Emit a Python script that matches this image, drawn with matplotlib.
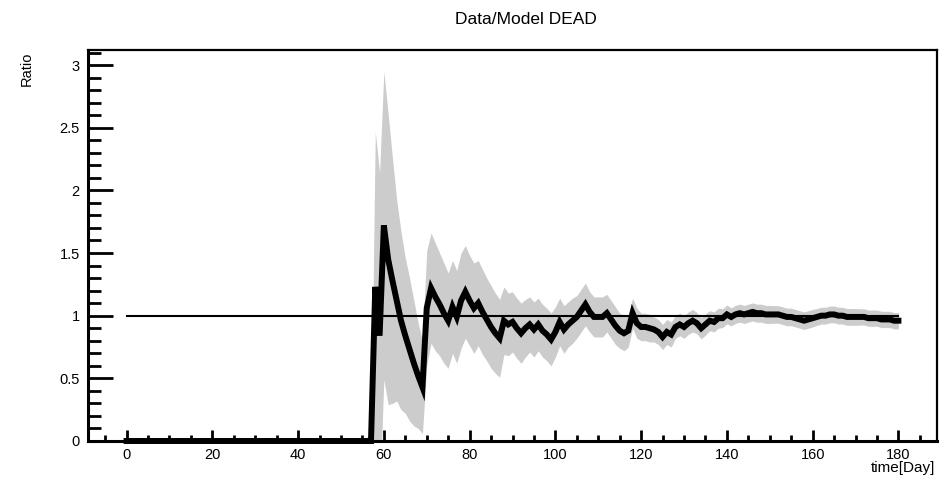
import matplotlib
matplotlib.use("Agg")
import matplotlib.pyplot as plt
from matplotlib.ticker import MultipleLocator
import numpy as np

plt.rcParams['font.family'] = ['Liberation Sans', 'DejaVu Sans']

# ---- data ----
days = list(range(0, 181))
ratio_before = [0.0] * 58  # days 0..57
ratio_after = [
    1.23, 0.84, 1.72, 1.45, 1.28, 1.12, 0.96, 0.84, 0.73, 0.62,   # 58-67
    0.52, 0.43, 1.06, 1.22, 1.15, 1.09, 1.02, 0.96, 1.07, 0.99,   # 68-77
    1.12, 1.19, 1.12, 1.06, 1.10, 1.03, 0.97, 0.91, 0.86, 0.82,   # 78-87
    0.96, 0.93, 0.95, 0.90, 0.86, 0.90, 0.93, 0.89, 0.93, 0.88,   # 88-97
    0.85, 0.81, 0.87, 0.95, 0.89, 0.93, 0.96, 0.99, 1.04, 1.09,   # 98-107
    1.03, 0.99, 0.99, 0.99, 1.02, 0.97, 0.92, 0.88, 0.86, 0.88,   # 108-117
    1.02, 0.94, 0.91, 0.91, 0.90, 0.89, 0.87, 0.83, 0.87, 0.85,   # 118-127
    0.91, 0.93, 0.91, 0.94, 0.96, 0.94, 0.90, 0.93, 0.96, 0.95,   # 128-137
    0.98, 0.98, 1.01, 0.99, 1.01, 1.02, 1.01, 1.02, 1.03, 1.02,   # 138-147
    1.02, 1.01, 1.01, 1.01, 1.01, 1.00, 0.99, 0.99, 0.98, 0.97,   # 148-157
    0.96, 0.97, 0.98, 0.99, 1.00, 1.00, 1.01, 1.01, 1.00, 1.00,   # 158-167
    0.99, 0.99, 0.99, 0.99, 0.99, 0.98, 0.98, 0.98, 0.97, 0.97,   # 168-177
    0.97, 0.96, 0.96,                                             # 178-180
]
err_before = [0.0] * 58
err_after = [
    1.24, 1.30, 1.23, 1.16, 0.98, 0.80, 0.71, 0.62, 0.57, 0.50,   # 58-67
    0.42, 0.37, 0.46, 0.44, 0.43, 0.41, 0.40, 0.38, 0.37, 0.37,   # 68-77
    0.38, 0.37, 0.36, 0.36, 0.34, 0.34, 0.33, 0.33, 0.32, 0.31,   # 78-87
    0.27, 0.25, 0.24, 0.24, 0.24, 0.23, 0.22, 0.22, 0.21, 0.21,   # 88-97
    0.21, 0.21, 0.20, 0.19, 0.19, 0.18, 0.18, 0.17, 0.17, 0.17,   # 98-107
    0.16, 0.16, 0.16, 0.16, 0.15, 0.15, 0.15, 0.14, 0.14, 0.13,   # 108-117
    0.12, 0.12, 0.11, 0.11, 0.11, 0.10, 0.10, 0.10, 0.10, 0.10,   # 118-127
    0.09, 0.09, 0.09, 0.09, 0.09, 0.085, 0.085, 0.085, 0.08, 0.08, # 128-137
    0.08, 0.075, 0.075, 0.072, 0.072, 0.072, 0.072, 0.072, 0.072, 0.072,  # 138-147
    0.072, 0.072, 0.072, 0.07, 0.07, 0.07, 0.07, 0.07, 0.07, 0.07,        # 148-157
    0.07, 0.07, 0.07, 0.067, 0.067, 0.067, 0.067, 0.067, 0.067, 0.067,    # 158-167
    0.067, 0.067, 0.067, 0.065, 0.065, 0.065, 0.065, 0.065, 0.065, 0.065, # 168-177
    0.065, 0.065, 0.065,                                                  # 178-180
]
ratio = np.array(ratio_before + ratio_after)
err = np.array(err_before + err_after)
x = np.array(days)

ref_x = [0, 180]
ref_y = [1, 1]

title = "Data/Model DEAD"
xlabel = "time[Day]"
ylabel = "Ratio"

# ---- figure ----
W, H = 953, 482
fig = plt.figure(figsize=(W / 100, H / 100), dpi=100)
ax = fig.add_axes([88 / W, 1 - 441 / H, (937 - 88) / W, (441 - 50) / H])

ax.fill_between(x, ratio - err, ratio + err, color='#cccccc', linewidth=0, zorder=1)
ax.plot(ref_x, ref_y, color='black', linewidth=1.5, zorder=2)
ax.plot(x, ratio, color='black', linewidth=4.3, zorder=3, clip_on=False,
        solid_joinstyle='miter')

ax.set_xlim(-9, 189)
ax.set_ylim(0, 3.12)

ax.xaxis.set_major_locator(MultipleLocator(20))
ax.xaxis.set_minor_locator(MultipleLocator(5))
ax.yaxis.set_major_locator(MultipleLocator(0.5))
ax.yaxis.set_minor_locator(MultipleLocator(0.1))

ax.tick_params(axis='x', which='major', direction='in', length=8, width=2.0,
               labelsize=10.5, pad=5, top=False)
ax.tick_params(axis='x', which='minor', direction='in', length=4, width=2.0, top=False)
ax.tick_params(axis='y', which='major', direction='in', length=18, width=2.0,
               labelsize=10.5, pad=6, right=False)
ax.tick_params(axis='y', which='minor', direction='in', length=9, width=2.0, right=False)

ax.set_yticks([0, 0.5, 1, 1.5, 2, 2.5, 3])
ax.set_yticklabels(['0', '0.5', '1', '1.5', '2', '2.5', '3'])

for s in ax.spines.values():
    s.set_linewidth(1.6)
ax.spines['left'].set_linewidth(2.2)
ax.spines['bottom'].set_linewidth(2.2)

fig.text(526 / W, 1 - 20 / H, title, ha='center', va='center', fontsize=12.5)
fig.text(935 / W, 1 - 468 / H, xlabel, ha='right', va='center', fontsize=11)
fig.text(27 / W, 1 - 52 / H, ylabel, ha='center', va='top', rotation=90, fontsize=10.5)

fig.savefig("out.png", dpi=100)
